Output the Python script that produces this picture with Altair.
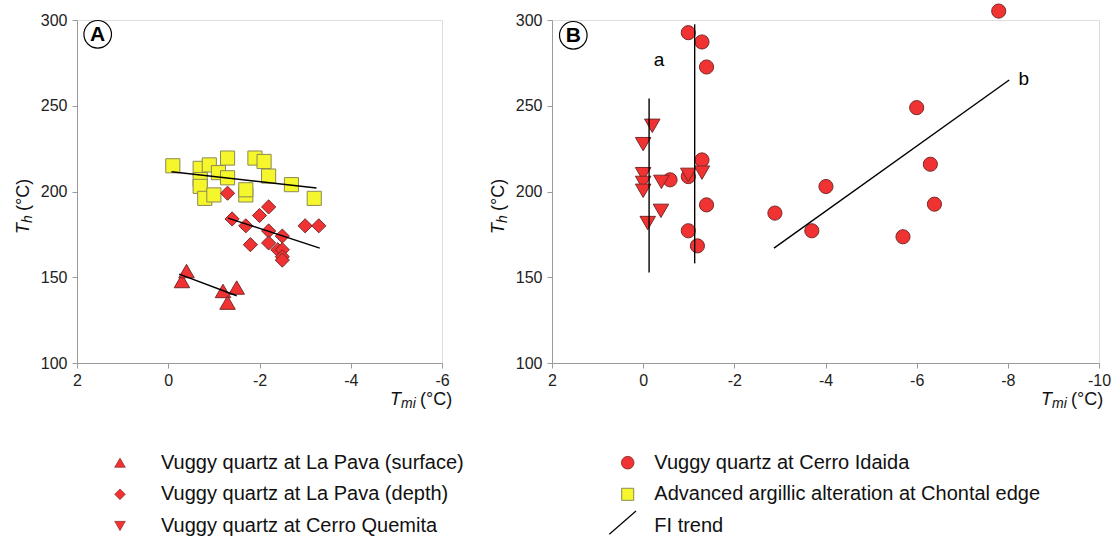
import altair as alt
import pandas as pd

FONT = "Liberation Sans"
RED = "#f03232"
RED_STROKE = "#7a2a2a"
YELLOW = "#f6f62c"
YEL_STROKE = "#8a8a55"
AXIS_GREY = "#9a9a9a"

# ---------------- Panel A data ----------------
surf_x = [-0.3, -0.4, -1.2, -1.5, -1.3]
surf_y = [147.8, 153.6, 142.0, 144.0, 135.2]

depth_x = [-1.3, -1.4, -1.7, -2.0, -2.2, -1.8, -2.2, -2.2, -2.4, -2.5, -2.5, -2.5, -2.5, -3.0, -3.3]
depth_y = [199.0, 184.0, 180.0, 186.0, 191.0, 169.0, 177.0, 170.0, 166.0, 174.0, 166.0, 162.0, 160.0, 180.0, 180.0]

chontal_x = [-0.1, -0.7, -0.9, -0.7, -0.7, -0.8, -1.0, -1.1, -1.3, -1.3, -1.7, -1.7, -1.9, -2.1, -2.2, -2.7, -3.2]
chontal_y = [215.0, 213.5, 215.5, 207.0, 203.0, 196.0, 198.0, 211.0, 219.5, 208.0, 198.0, 201.0, 219.5, 217.5, 209.0, 204.0, 196.0]

trendA_x1 = [-0.07, -1.31, -0.24]
trendA_y1 = [211.5, 184.5, 151.8]
trendA_x2 = [-3.25, -3.32, -1.50]
trendA_y2 = [202.0, 167.0, 139.2]

# ---------------- Panel B data ----------------
idaida_x = [-0.99, -1.29, -1.39, -1.29, -0.59, -0.99, -1.39, -0.99, -1.19, -2.89, -3.70, -4.01,
            -6.00, -6.30, -6.39, -5.70, -7.80]
idaida_y = [292.6, 287.2, 272.6, 218.4, 206.8, 208.7, 192.2, 177.1, 168.3, 187.4, 177.1, 202.9,
            248.9, 215.9, 192.6, 173.6, 305.2]

quemita_x = [-0.20, 0.0, 0.0, 0.0, 0.0, -0.40, -0.39, -0.10, -0.99, -1.29]
quemita_y = [238.3, 227.6, 210.1, 205.0, 200.4, 205.6, 188.7, 181.6, 209.7, 211.0]

trendB_x1 = [-0.13, -1.13, -2.87]
trendB_y1 = [254.2, 297.5, 167.0]
trendB_x2 = [-0.13, -1.13, -8.03]
trendB_y2 = [152.8, 158.1, 265.0]

trend_label_text = ["a", "b"]
trend_label_x = [-0.35, -8.35]
trend_label_y = [276.5, 265.4]

# ---------------- Axes ----------------
y_ticks = [100, 150, 200, 250, 300]
xA_ticks = [2, 0, -2, -4, -6]
xB_ticks = [2, 0, -2, -4, -6, -8, -10]

# ---------------- Legend ----------------
legend_left_labels = ["Vuggy quartz at La Pava (surface)", "Vuggy quartz at La Pava (depth)",
                      "Vuggy quartz at Cerro Quemita"]
legend_left_shapes = ["triangle-up", "diamond", "triangle-down"]
legend_right_labels = ["Vuggy quartz at Cerro Idaida", "Advanced argillic alteration at Chontal edge",
                       "FI trend"]

W_A, W_B, H = 365, 547, 343


def axis_x(vals):
    return alt.Axis(values=vals, title=None, grid=False, domainColor=AXIS_GREY, tickColor=AXIS_GREY,
                    tickSize=5, labelFont=FONT, labelFontSize=16, labelColor="#222222",
                    labelPadding=4, labelExpr="'' + datum.value", labelFlush=False)


def axis_y():
    return alt.Axis(values=y_ticks, title=None, grid=False, domainColor=AXIS_GREY, tickColor=AXIS_GREY,
                    tickSize=5, labelFont=FONT, labelFontSize=16, labelColor="#222222",
                    labelPadding=5, labelExpr="'' + datum.value", labelFlush=False)


def txt(one, text, x, y, size=18, style="normal", angle=0):
    return alt.Chart(one).mark_text(text=text, font=FONT, fontSize=size, fontStyle=style, angle=angle,
                                    align="left", baseline="alphabetic", color="#111111") \
        .encode(x=alt.value(x), y=alt.value(y))


def make_panel(xdom, xticks, width, series, trends, letter, letter_pos, xt_start, legend_layers, labels=None):
    xs = alt.Scale(domain=xdom, reverse=True, nice=False, zero=False)
    ys = alt.Scale(domain=[100, 300], nice=False, zero=False)
    X = lambda f: alt.X(f, type="quantitative", scale=xs, axis=axis_x(xticks))
    Y = lambda f: alt.Y(f, type="quantitative", scale=ys, axis=axis_y())
    layers = []
    tx1, ty1, tx2, ty2 = trends
    tdf = pd.DataFrame({"x1": tx1, "y1": ty1, "x2": tx2, "y2": ty2})
    for xs_, ys_, shape, fill, stroke, size in series:
        df = pd.DataFrame({"x": xs_, "y": ys_})
        layers.append(alt.Chart(df).mark_point(shape=shape, filled=True, fill=fill, stroke=stroke,
                                               strokeWidth=1, opacity=1, fillOpacity=1, size=size)
                      .encode(x=X("x"), y=Y("y")))
    layers.append(alt.Chart(tdf).mark_rule(color="black", strokeWidth=1.4)
                  .encode(x=X("x1"), y=Y("y1"), x2="x2:Q", y2="y2:Q"))
    if labels is not None:
        ldf = pd.DataFrame({"t": labels[0], "x": labels[1], "y": labels[2]})
        layers.append(alt.Chart(ldf).mark_text(font=FONT, fontSize=19, color="black")
                      .encode(x=X("x"), y=Y("y"), text="t:N"))
    one = pd.DataFrame({"k": [0]})
    # circled panel letter
    layers.append(alt.Chart(one).mark_point(shape="circle", size=760, fill="white", filled=False,
                                            stroke="black", strokeWidth=1.2, opacity=1)
                  .encode(x=alt.value(letter_pos[0]), y=alt.value(letter_pos[1])))
    layers.append(alt.Chart(one).mark_text(text=letter, font=FONT, fontSize=21, fontWeight="bold",
                                           color="black", baseline="middle", align="center")
                  .encode(x=alt.value(letter_pos[0]), y=alt.value(letter_pos[1] + 1)))
    # y title: T_h (°C)
    layers.append(txt(one, "T", -48, 214, 18, "italic", 270))
    layers.append(txt(one, "h", -45, 203, 14, "italic", 270))
    layers.append(txt(one, "(°C)", -48, 191, 18, "normal", 270))
    # x title: T_mi (°C)
    layers.append(txt(one, "T", xt_start, 385, 18, "italic"))
    layers.append(txt(one, "mi", xt_start + 11, 388, 14, "italic"))
    layers.append(txt(one, "(°C)", xt_start + 30, 385, 18, "normal"))
    layers.extend(legend_layers)
    return alt.layer(*layers).properties(width=width, height=H)


one = pd.DataFrame({"k": [0]})
row_y = [442.7, 474.3, 506.0]

legA = []
for lab, shp, ry in zip(legend_left_labels, legend_left_shapes, row_y):
    legA.append(alt.Chart(one).mark_point(shape=shp, filled=True, fill=RED, stroke=RED_STROKE,
                                          strokeWidth=0.6, opacity=1, size=115)
                .encode(x=alt.value(43), y=alt.value(ry)))
    legA.append(alt.Chart(one).mark_text(text=lab, font=FONT, fontSize=20, align="left",
                                         baseline="middle", color="#111")
                .encode(x=alt.value(84), y=alt.value(ry)))

legB = []
legB.append(alt.Chart(one).mark_point(shape="circle", filled=True, fill=RED, stroke=RED_STROKE,
                                      strokeWidth=0.8, opacity=1, size=160)
            .encode(x=alt.value(75.7), y=alt.value(row_y[0])))
legB.append(alt.Chart(one).mark_point(shape="square", filled=True, fill=YELLOW, stroke=YEL_STROKE,
                                      strokeWidth=1, opacity=1, size=145)
            .encode(x=alt.value(75.7), y=alt.value(row_y[1])))
legB.append(alt.Chart(one).mark_rule(color="black", strokeWidth=1.2)
            .encode(x=alt.value(57.3), x2=alt.value(84), y=alt.value(514.3), y2=alt.value(491)))
for lab, ry in zip(legend_right_labels, row_y):
    legB.append(alt.Chart(one).mark_text(text=lab, font=FONT, fontSize=20, align="left",
                                         baseline="middle", color="#111")
                .encode(x=alt.value(102.3), y=alt.value(ry)))

panelA = make_panel(
    [-6, 2], xA_ticks, W_A,
    [(chontal_x, chontal_y, "square", YELLOW, YEL_STROKE, 200),
     (depth_x, depth_y, "diamond", RED, RED_STROKE, 200),
     (surf_x, surf_y, "triangle-up", RED, RED_STROKE, 240)],
    (trendA_x1, trendA_y1, trendA_x2, trendA_y2),
    "A", (20.7, 14.3), 313, legA)

panelB = make_panel(
    [-10, 2], xB_ticks, W_B,
    [(idaida_x, idaida_y, "circle", RED, RED_STROKE, 200),
     (quemita_x, quemita_y, "triangle-down", RED, RED_STROKE, 240)],
    (trendB_x1, trendB_y1, trendB_x2, trendB_y2),
    "B", (21.3, 15.3), 489, legB,
    labels=(trend_label_text, trend_label_x, trend_label_y))

chart = alt.hconcat(panelA, panelB, spacing=110, bounds="flush").properties(
    padding={"left": 14, "top": 1, "right": 0, "bottom": 0}
).configure_view(stroke=None).configure(background="white")

chart.save("out.html", embed_options={"renderer": "svg", "actions": False})
